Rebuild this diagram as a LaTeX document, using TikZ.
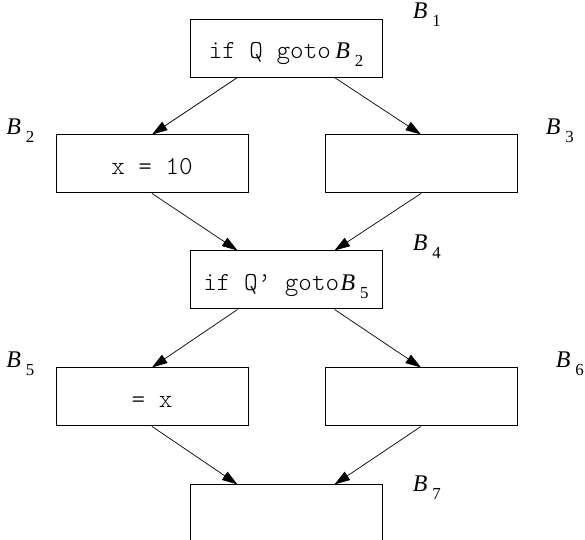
\documentclass[tikz,border=0pt]{standalone}
\usepackage{fontspec}
\setmainfont{Liberation Serif}
\setmonofont{Latin Modern Mono Light}
\usetikzlibrary{positioning, arrows.meta}

\newcommand{\blk}[1]{{\rmfamily\fontsize{17}{20}\selectfont\itshape B}\kern3.5pt\raisebox{-6pt}{\rmfamily\fontsize{12}{14}\selectfont #1}}

\tikzset{
  block/.style={draw, line width=0.7pt, minimum width=4.8cm, minimum height=1.45cm,
                inner sep=0pt, font=\fontsize{18.4}{20}\ttfamily,
                text height=0.52cm, text depth=0pt},
  blabel/.style={inner sep=0pt},
  flow/.style={-{Triangle[length=11pt,width=7pt]}, line width=0.5pt},
}

\begin{document}
\begin{tikzpicture}
  \useasboundingbox (0,0) rectangle (14.625,-13.5);

  % blocks
  \node[block] (b1) at (7.15,-1.2) {if Q goto\,\blk{2}};
  \node[block, below=1.425cm of b1, xshift=-3.35cm] (b2) {x = 10};
  \node[block, below=1.425cm of b1, xshift=3.375cm] (b3) {};
  \node[block, below=1.425cm of b2, xshift=3.35cm] (b4) {if Q’ goto\kern1pt\blk{5}};
  \node[block, below=1.45cm of b4, xshift=-3.35cm] (b5) {= x};
  \node[block, below=1.45cm of b4, xshift=3.375cm] (b6) {};
  \node[block, below=1.45cm of b5, xshift=3.35cm] (b7) {};

  % block names
  \node[blabel, anchor=base west] (l1) at ([xshift=0.75cm]b1.north east) {\blk{1}};
  \node[blabel, anchor=base east] (l2) at ([xshift=-0.525cm]b2.north west) {\blk{2}};
  \node[blabel, anchor=base west] (l3) at ([xshift=0.7cm]b3.north east) {\blk{3}};
  \node[blabel, anchor=base west] (l4) at ([xshift=0.75cm]b4.north east) {\blk{4}};
  \node[blabel, anchor=base east] (l5) at ([xshift=-0.525cm]b5.north west) {\blk{5}};
  \node[blabel, anchor=base west] (l6) at ([xshift=0.95cm]b6.north east) {\blk{6}};
  \node[blabel, anchor=base west] (l7) at ([xshift=0.75cm, yshift=-0.175cm]b7.north east) {\blk{7}};

  % edges
  \draw[flow] ([xshift=1.2cm]b1.south west) -- (b2.north);
  \draw[flow] ([xshift=-1.2cm]b1.south east) -- (b3.north);
  \draw[flow] (b2.south) -- ([xshift=1.2cm]b4.north west);
  \draw[flow] (b3.south) -- ([xshift=-1.2cm]b4.north east);
  \draw[flow] ([xshift=1.2cm]b4.south west) -- (b5.north);
  \draw[flow] ([xshift=-1.2cm]b4.south east) -- (b6.north);
  \draw[flow] (b5.south) -- ([xshift=1.2cm]b7.north west);
  \draw[flow] (b6.south) -- ([xshift=-1.2cm]b7.north east);
\end{tikzpicture}
\end{document}
